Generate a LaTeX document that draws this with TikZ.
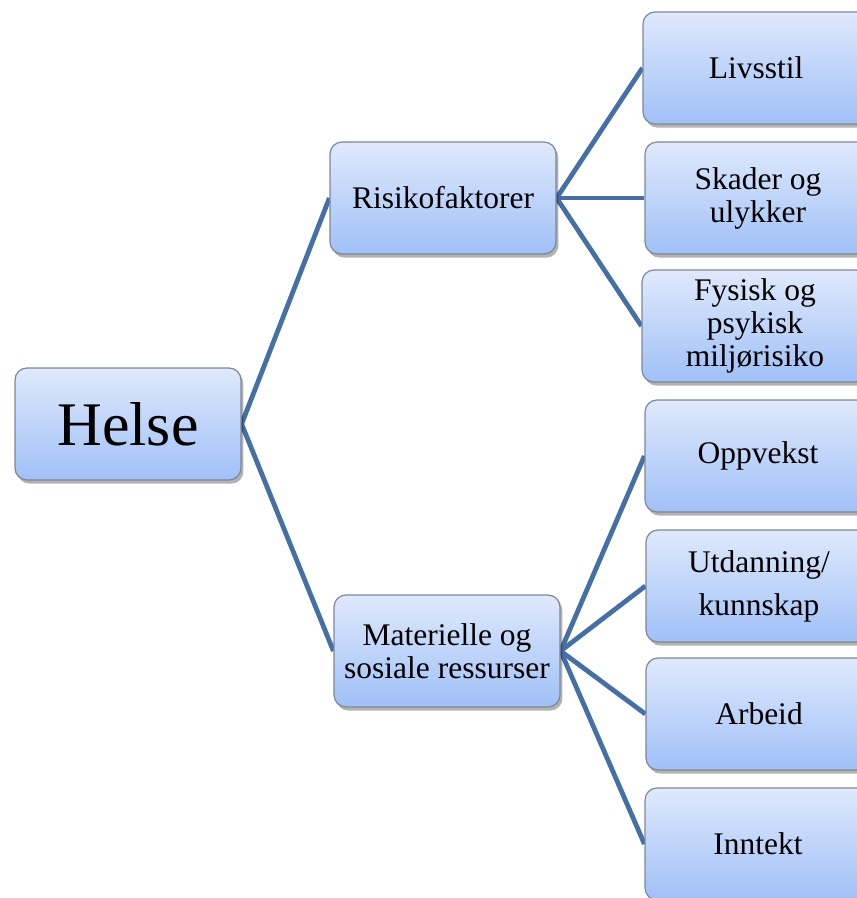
\documentclass[tikz,border=0pt]{standalone}
\usepackage{fontspec}
\setmainfont{Liberation Serif}
\usetikzlibrary{shadows,backgrounds}
\definecolor{linecol}{RGB}{70,112,165}
\definecolor{boxtop}{RGB}{223,233,252}
\definecolor{boxbot}{RGB}{160,192,247}
\definecolor{boxline}{RGB}{125,135,150}
\tikzset{
  box/.style={draw=boxline, line width=0.6pt, rounded corners=6pt,
    top color=boxtop, bottom color=boxbot,
    minimum width=113pt, minimum height=56pt, align=center, inner sep=2pt,
    font=\fontsize{15.75}{16.5}\selectfont,
    drop shadow={shadow xshift=1.2pt, shadow yshift=-1.8pt, opacity=0.3, fill=black}},
  conn/.style={draw=linecol, line width=2.4pt}
}
\begin{document}
\begin{tikzpicture}[x=0.5pt,y=-0.5pt]
\useasboundingbox (0,0) rectangle (856,898);
\node[box, font=\fontsize{31}{34}\selectfont] (helse) at (128,424) {Helse};
\node[box] (risk) at (443,198) {Risikofaktorer};
\node[box] (mat) at (447,651) {Materielle og\\sosiale ressurser};
\node[box] (livs) at (756,68) {Livsstil};
\node[box] (skad) at (758,198) {Skader og\\ulykker};
\node[box] (fys) at (755,326) {Fysisk og\\psykisk\\miljørisiko};
\node[box] (opp) at (758,456) {Oppvekst};
\node[box] (utd) at (759,586) {Utdanning/\\[5pt]kunnskap};
\node[box] (arb) at (759,714) {Arbeid};
\node[box] (inn) at (758,844) {Inntekt};
\begin{scope}[on background layer]
\draw[conn] (helse.east) -- (risk.west);
\draw[conn] (helse.east) -- (mat.west);
\draw[conn] (risk.east) -- (livs.west);
\draw[conn] (risk.east) -- (skad.west);
\draw[conn] (risk.east) -- (fys.west);
\draw[conn] (mat.east) -- (opp.west);
\draw[conn] (mat.east) -- (utd.west);
\draw[conn] (mat.east) -- (arb.west);
\draw[conn] (mat.east) -- (inn.west);
\end{scope}
\end{tikzpicture}
\end{document}
